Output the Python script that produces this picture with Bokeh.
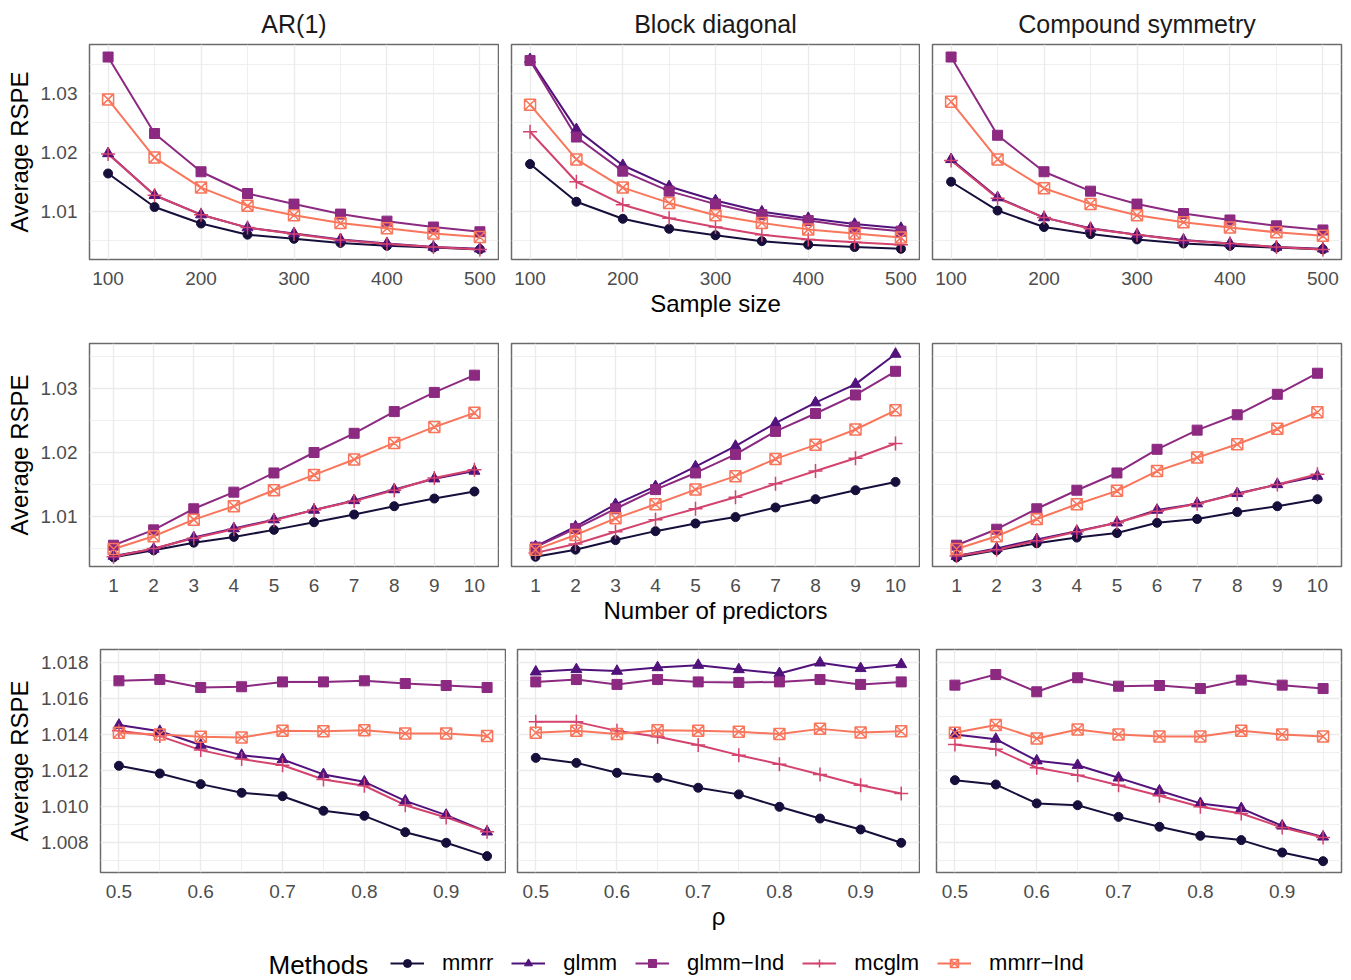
from bokeh.plotting import figure
from bokeh.layouts import column, row
from bokeh.models import (Range1d, FixedTicker, NumeralTickFormatter, Legend,
                          LegendItem, Label, ColumnDataSource)
from bokeh.embed import file_html
from bokeh.resources import INLINE

FONT = "Liberation Sans"

# ---------------- data ----------------
methods = ["mmrr", "glmm", "glmm-Ind", "mcglm", "mmrr-Ind"]
method_labels = ["mmrr", "glmm", "glmm\u2212Ind", "mcglm", "mmrr\u2212Ind"]
structures = ["AR(1)", "Block diagonal", "Compound symmetry"]

sample_size = [100, 150, 200, 250, 300, 350, 400, 450, 500]
n_predictors = [1, 2, 3, 4, 5, 6, 7, 8, 9, 10]
rho = [0.5, 0.55, 0.6, 0.65, 0.7, 0.75, 0.8, 0.85, 0.9, 0.95]

size_ar1 = {
    "mmrr":     [1.0164, 1.0107, 1.0079, 1.0060, 1.0053, 1.0046, 1.0041, 1.0038, 1.0035],
    "glmm":     [1.0198, 1.0127, 1.0094, 1.0072, 1.0062, 1.0052, 1.0045, 1.0039, 1.0036],
    "glmm-Ind": [1.0362, 1.0232, 1.0167, 1.0130, 1.0112, 1.0095, 1.0083, 1.0073, 1.0065],
    "mcglm":    [1.0197, 1.0127, 1.0094, 1.0072, 1.0061, 1.0051, 1.0044, 1.0039, 1.0035],
    "mmrr-Ind": [1.0290, 1.0191, 1.0140, 1.0109, 1.0093, 1.0080, 1.0071, 1.0062, 1.0056],
}
size_block = {
    "mmrr":     [1.0180, 1.0116, 1.0087, 1.0070, 1.0059, 1.0049, 1.0043, 1.0039, 1.0036],
    "glmm":     [1.0358, 1.0239, 1.0178, 1.0142, 1.0118, 1.0099, 1.0088, 1.0078, 1.0071],
    "glmm-Ind": [1.0356, 1.0226, 1.0168, 1.0134, 1.0112, 1.0094, 1.0084, 1.0073, 1.0066],
    "mcglm":    [1.0235, 1.0150, 1.0111, 1.0088, 1.0073, 1.0060, 1.0052, 1.0047, 1.0043],
    "mmrr-Ind": [1.0281, 1.0188, 1.0140, 1.0114, 1.0093, 1.0080, 1.0069, 1.0062, 1.0055],
}
size_cs = {
    "mmrr":     [1.0150, 1.0101, 1.0073, 1.0061, 1.0052, 1.0045, 1.0041, 1.0038, 1.0035],
    "glmm":     [1.0188, 1.0123, 1.0089, 1.0071, 1.0060, 1.0051, 1.0045, 1.0039, 1.0036],
    "glmm-Ind": [1.0362, 1.0229, 1.0167, 1.0134, 1.0112, 1.0096, 1.0085, 1.0075, 1.0068],
    "mcglm":    [1.0186, 1.0122, 1.0089, 1.0070, 1.0060, 1.0050, 1.0045, 1.0039, 1.0035],
    "mmrr-Ind": [1.0286, 1.0188, 1.0139, 1.0112, 1.0093, 1.0081, 1.0072, 1.0064, 1.0058],
}

pred_ar1 = {
    "mmrr":     [1.0036, 1.0047, 1.0059, 1.0068, 1.0079, 1.0091, 1.0103, 1.0116, 1.0128, 1.0139],
    "glmm":     [1.0038, 1.0049, 1.0067, 1.0081, 1.0095, 1.0110, 1.0125, 1.0142, 1.0159, 1.0171],
    "glmm-Ind": [1.0055, 1.0079, 1.0112, 1.0138, 1.0168, 1.0200, 1.0230, 1.0264, 1.0294, 1.0321],
    "mcglm":    [1.0037, 1.0050, 1.0066, 1.0080, 1.0094, 1.0110, 1.0124, 1.0141, 1.0160, 1.0173],
    "mmrr-Ind": [1.0049, 1.0069, 1.0095, 1.0116, 1.0141, 1.0165, 1.0189, 1.0215, 1.0240, 1.0262],
}
pred_block = {
    "mmrr":     [1.0037, 1.0048, 1.0063, 1.0077, 1.0089, 1.0099, 1.0114, 1.0127, 1.0141, 1.0154],
    "glmm":     [1.0053, 1.0084, 1.0119, 1.0147, 1.0178, 1.0210, 1.0246, 1.0278, 1.0307, 1.0354],
    "glmm-Ind": [1.0052, 1.0081, 1.0112, 1.0142, 1.0168, 1.0197, 1.0233, 1.0261, 1.0290, 1.0327],
    "mcglm":    [1.0043, 1.0057, 1.0076, 1.0095, 1.0112, 1.0130, 1.0151, 1.0171, 1.0191, 1.0214],
    "mmrr-Ind": [1.0048, 1.0071, 1.0097, 1.0119, 1.0142, 1.0163, 1.0190, 1.0212, 1.0236, 1.0266],
}
pred_cs = {
    "mmrr":     [1.0036, 1.0047, 1.0058, 1.0067, 1.0074, 1.0090, 1.0096, 1.0107, 1.0116, 1.0127],
    "glmm":     [1.0038, 1.0050, 1.0064, 1.0077, 1.0090, 1.0110, 1.0120, 1.0136, 1.0150, 1.0163],
    "glmm-Ind": [1.0055, 1.0080, 1.0112, 1.0141, 1.0168, 1.0205, 1.0235, 1.0259, 1.0291, 1.0324],
    "mcglm":    [1.0038, 1.0048, 1.0062, 1.0076, 1.0090, 1.0108, 1.0120, 1.0135, 1.0150, 1.0166],
    "mmrr-Ind": [1.0049, 1.0069, 1.0096, 1.0119, 1.0140, 1.0171, 1.0192, 1.0213, 1.0237, 1.0263],
}

rho_ar1 = {
    "mmrr":     [1.01228, 1.01185, 1.01126, 1.01078, 1.01059, 1.00978, 1.00950, 1.00859, 1.00800, 1.00726],
    "glmm":     [1.01454, 1.01420, 1.01343, 1.01287, 1.01263, 1.01180, 1.01139, 1.01033, 1.00954, 1.00861],
    "glmm-Ind": [1.01700, 1.01707, 1.01663, 1.01667, 1.01694, 1.01694, 1.01700, 1.01685, 1.01674, 1.01663],
    "mcglm":    [1.01422, 1.01393, 1.01315, 1.01265, 1.01231, 1.01152, 1.01117, 1.01009, 1.00941, 1.00861],
    "mmrr-Ind": [1.01411, 1.01402, 1.01389, 1.01385, 1.01422, 1.01420, 1.01426, 1.01407, 1.01407, 1.01394],
}
rho_block = {
    "mmrr":     [1.01272, 1.01244, 1.01189, 1.01161, 1.01106, 1.01069, 1.01000, 1.00935, 1.00874, 1.00800],
    "glmm":     [1.01750, 1.01763, 1.01754, 1.01774, 1.01787, 1.01763, 1.01741, 1.01800, 1.01769, 1.01791],
    "glmm-Ind": [1.01694, 1.01707, 1.01680, 1.01707, 1.01694, 1.01691, 1.01694, 1.01707, 1.01680, 1.01694],
    "mcglm":    [1.01472, 1.01472, 1.01422, 1.01389, 1.01343, 1.01287, 1.01237, 1.01180, 1.01120, 1.01074],
    "mmrr-Ind": [1.01411, 1.01422, 1.01404, 1.01426, 1.01422, 1.01417, 1.01404, 1.01433, 1.01413, 1.01420],
}
rho_cs = {
    "mmrr":     [1.01148, 1.01124, 1.01019, 1.01009, 1.00944, 1.00889, 1.00839, 1.00815, 1.00746, 1.00698],
    "glmm":     [1.01402, 1.01376, 1.01256, 1.01231, 1.01161, 1.01089, 1.01019, 1.00991, 1.00894, 1.00833],
    "glmm-Ind": [1.01676, 1.01735, 1.01639, 1.01717, 1.01670, 1.01674, 1.01657, 1.01704, 1.01676, 1.01657],
    "mcglm":    [1.01346, 1.01320, 1.01217, 1.01176, 1.01120, 1.01061, 1.01000, 1.00963, 1.00885, 1.00830],
    "mmrr-Ind": [1.01411, 1.01454, 1.01380, 1.01430, 1.01402, 1.01391, 1.01391, 1.01422, 1.01402, 1.01391],
}

x_ticks_size = [100, 200, 300, 400, 500]
x_minor_size = [150, 250, 350, 450]
x_ticks_pred = [1, 2, 3, 4, 5, 6, 7, 8, 9, 10]
x_ticks_rho = [0.5, 0.6, 0.7, 0.8, 0.9]
x_minor_rho = [0.55, 0.65, 0.75, 0.85, 0.95]
y_ticks_top = [1.01, 1.02, 1.03]
y_minor_top = [1.005, 1.015, 1.025, 1.035]
y_ticks_rho = [1.008, 1.010, 1.012, 1.014, 1.016, 1.018]
y_minor_rho = [1.007, 1.009, 1.011, 1.013, 1.015, 1.017]

# ---------------- styles ----------------
colors = {"mmrr": "#160F3B", "glmm": "#51127C", "glmm-Ind": "#8C2981",
          "mcglm": "#D3436E", "mmrr-Ind": "#F8765C"}
markers = {"mmrr": "circle", "glmm": "triangle", "glmm-Ind": "square",
           "mcglm": "cross", "mmrr-Ind": "square_x"}
msize = {"mmrr": 9, "glmm": 11, "glmm-Ind": 10, "mcglm": 14, "mmrr-Ind": 11}


def draw_series(p, xs, data):
    for m in methods:
        p.line(xs, data[m], line_color=colors[m], line_width=2)
    for m in methods:
        if m in ("mcglm", "mmrr-Ind"):
            p.scatter(xs, data[m], marker=markers[m], size=msize[m],
                      line_color=colors[m], fill_color=None, line_width=1.5)
        else:
            p.scatter(xs, data[m], marker=markers[m], size=msize[m],
                      line_color=colors[m], fill_color=colors[m], line_width=1)


def panel(xs, data, xr, yr, xt, xm, yt, ym, xfmt, yfmt, fw, fh,
          left, right, top, bottom, title=None, ylabel=None, xlabel=None):
    kw = dict(frame_width=fw, frame_height=fh, x_range=xr, y_range=yr,
              output_backend="svg", toolbar_location=None,
              min_border_left=left, min_border_right=right,
              min_border_top=top, min_border_bottom=bottom,
              background_fill_color="white", border_fill_color="white")
    if title:
        kw["title"] = title
    p = figure(**kw)
    if title:
        p.title.text_font = FONT
        p.title.text_font_size = "25px"
        p.title.text_font_style = "normal"
        p.title.text_color = "#1A1A1A"
        p.title.align = "center"
        p.title.standoff = 13
    p.xaxis.ticker = FixedTicker(ticks=xt, minor_ticks=xm)
    p.xgrid.ticker = FixedTicker(ticks=xt, minor_ticks=xm)
    p.yaxis.ticker = FixedTicker(ticks=yt, minor_ticks=ym)
    p.ygrid.ticker = FixedTicker(ticks=yt, minor_ticks=ym)
    p.xaxis.formatter = NumeralTickFormatter(format=xfmt)
    p.yaxis.formatter = NumeralTickFormatter(format=yfmt)
    for ax in p.axis:
        ax.axis_line_color = None
        ax.major_tick_line_color = None
        ax.minor_tick_line_color = None
        ax.major_tick_out = 0
        ax.minor_tick_out = 0
        ax.major_label_text_font = FONT
        ax.major_label_text_font_size = "19px"
        ax.major_label_text_color = "#4D4D4D"
        ax.axis_label_text_font = FONT
        ax.axis_label_text_font_size = "24px"
        ax.axis_label_text_font_style = "normal"
        ax.axis_label_text_color = "#000000"
    p.xaxis.major_label_standoff = 12
    p.yaxis.major_label_standoff = 12
    p.xaxis.axis_label_standoff = 2
    p.yaxis.axis_label_standoff = 5
    if xlabel:
        p.xaxis.axis_label = xlabel
    if ylabel:
        p.yaxis.axis_label = ylabel
    else:
        p.yaxis.visible = False
    p.grid.grid_line_color = "#EBEBEB"
    p.grid.grid_line_width = 1.4
    p.grid.minor_grid_line_color = "#EBEBEB"
    p.grid.minor_grid_line_width = 0.8
    p.outline_line_color = "#6B6B6B"
    p.outline_line_width = 1.5
    draw_series(p, xs, data)
    return p


yr1 = Range1d(1.00178, 1.03833)
yr2 = Range1d(1.00217, 1.03705)
yr3 = Range1d(1.00635, 1.01874)

geo1 = [(89, 409, 1), (12, 408, 1), (12, 409, 2)]
geo3 = [(100, 405, 1), (11, 402, 1), (16, 405, 2)]

# Row 1: sample size
row1_data = [size_ar1, size_block, size_cs]
row1 = []
for i, (d, (l, w, r)) in enumerate(zip(row1_data, geo1)):
    row1.append(panel(sample_size, d, Range1d(80, 520), yr1, x_ticks_size, x_minor_size,
                      y_ticks_top, y_minor_top, "0", "0.00", w, 215, l, r, 44, 67,
                      title=structures[i],
                      ylabel="Average RSPE" if i == 0 else None,
                      xlabel="Sample size" if i == 1 else None))

# Row 2: number of predictors
row2_data = [pred_ar1, pred_block, pred_cs]
row2 = []
for i, (d, (l, w, r)) in enumerate(zip(row2_data, geo1)):
    row2.append(panel(n_predictors, d, Range1d(0.4, 10.6), yr2, x_ticks_pred, [],
                      y_ticks_top, y_minor_top, "0", "0.00", w, 223, l, r, 17, 67,
                      ylabel="Average RSPE" if i == 0 else None,
                      xlabel="Number of predictors" if i == 1 else None))

# Row 3: rho
row3_data = [rho_ar1, rho_block, rho_cs]
row3 = []
for i, (d, (l, w, r)) in enumerate(zip(row3_data, geo3)):
    row3.append(panel(rho, d, Range1d(0.4775, 0.9725), yr3, x_ticks_rho, x_minor_rho,
                      y_ticks_rho, y_minor_rho, "0.0", "0.000", w, 223, l, r, 16, 67,
                      ylabel="Average RSPE" if i == 0 else None,
                      xlabel="\u03c1" if i == 1 else None))

# Legend strip
leg = figure(width=1343, height=41, x_range=Range1d(0, 1), y_range=Range1d(0, 1),
             output_backend="svg", toolbar_location=None, min_border=0,
             outline_line_color=None)
leg.axis.visible = False
leg.grid.visible = False
items = []
for m, lab in zip(methods, method_labels):
    src = ColumnDataSource(dict(x=[-5, -4], y=[-5, -5]))
    lr = leg.line("x", "y", source=src, line_color=colors[m], line_width=2)
    if m in ("mcglm", "mmrr-Ind"):
        sr = leg.scatter("x", "y", source=src, marker=markers[m], size=msize[m],
                         line_color=colors[m], fill_color=None, line_width=1.5)
    else:
        sr = leg.scatter("x", "y", source=src, marker=markers[m], size=msize[m],
                         line_color=colors[m], fill_color=colors[m])
    items.append(LegendItem(label=lab, renderers=[lr, sr]))
legend = Legend(items=items, orientation="horizontal", location=(390, 4),
                label_text_font=FONT, label_text_font_size="22px",
                label_text_color="#000000", glyph_width=34, glyph_height=20,
                label_height=20, label_standoff=18, spacing=18, padding=0, margin=0,
                border_line_color=None, background_fill_alpha=0)
leg.add_layout(legend)
leg.add_layout(Label(x=268, y=16, x_units="screen", y_units="screen", text="Methods",
                     text_font=FONT, text_font_size="26px", text_baseline="middle",
                     text_color="#000000"))

layout = column(row(*row1), row(*row2), row(*row3), leg)
open("out.html", "w").write(file_html(layout, INLINE))
